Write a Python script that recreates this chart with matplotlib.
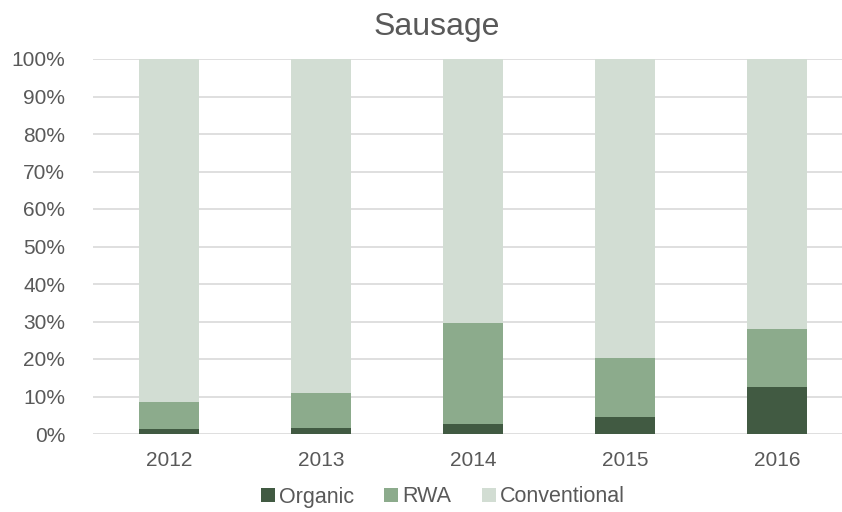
import matplotlib.pyplot as plt
import numpy as np

# Sausage: share of sales by production type
years = ['2012', '2013', '2014', '2015', '2016']
organic = [1.3, 1.5, 2.8, 4.6, 12.6]
rwa = [7.2, 9.4, 26.7, 15.7, 15.4]
conventional = [100 - o - r for o, r in zip(organic, rwa)]

c_org = '#415A42'
c_rwa = '#8CAB8C'
c_conv = '#D2DDD3'
txt = '#595959'

plt.rcParams['font.family'] = ['Liberation Sans', 'DejaVu Sans']

fig = plt.figure(figsize=(8.42, 5.12), dpi=100)
ax = fig.add_axes([93 / 842, 1 - 434 / 512, 760 / 842, 375 / 512])

x = np.arange(len(years))
w = 0.4
ax.bar(x, organic, w, color=c_org, label='Organic', zorder=3)
ax.bar(x, rwa, w, bottom=organic, color=c_rwa, label='RWA', zorder=3)
bottom2 = [o + r for o, r in zip(organic, rwa)]
ax.bar(x, conventional, w, bottom=bottom2, color=c_conv, label='Conventional', zorder=3)

ax.set_xlim(-0.5, len(years) - 0.5)
ax.set_ylim(0, 100)
ax.set_yticks(range(0, 101, 10))
ax.set_yticklabels([f'{v}%' for v in range(0, 101, 10)])
ax.set_xticks(x)
ax.set_xticklabels(years)
ax.yaxis.grid(True, color='#D9D9D9', linewidth=1.2, zorder=0)
ax.set_axisbelow(True)
for s in ax.spines.values():
    s.set_visible(False)
ax.tick_params(axis='both', length=0, labelsize=15, labelcolor=txt)
ax.tick_params(axis='x', pad=12)
ax.tick_params(axis='y', pad=20)

fig.text(437 / 842, 1 - 27 / 512, 'Sausage', ha='center', va='center', fontsize=23, color=txt)

fig.legend(loc='center', bbox_to_anchor=(443 / 842, 1 - 497 / 512), ncol=3, frameon=False,
           fontsize=15.5, labelcolor=txt, handlelength=0.65, handleheight=0.65,
           handletextpad=0.2, columnspacing=1.4)

fig.savefig('out.png', dpi=100)
